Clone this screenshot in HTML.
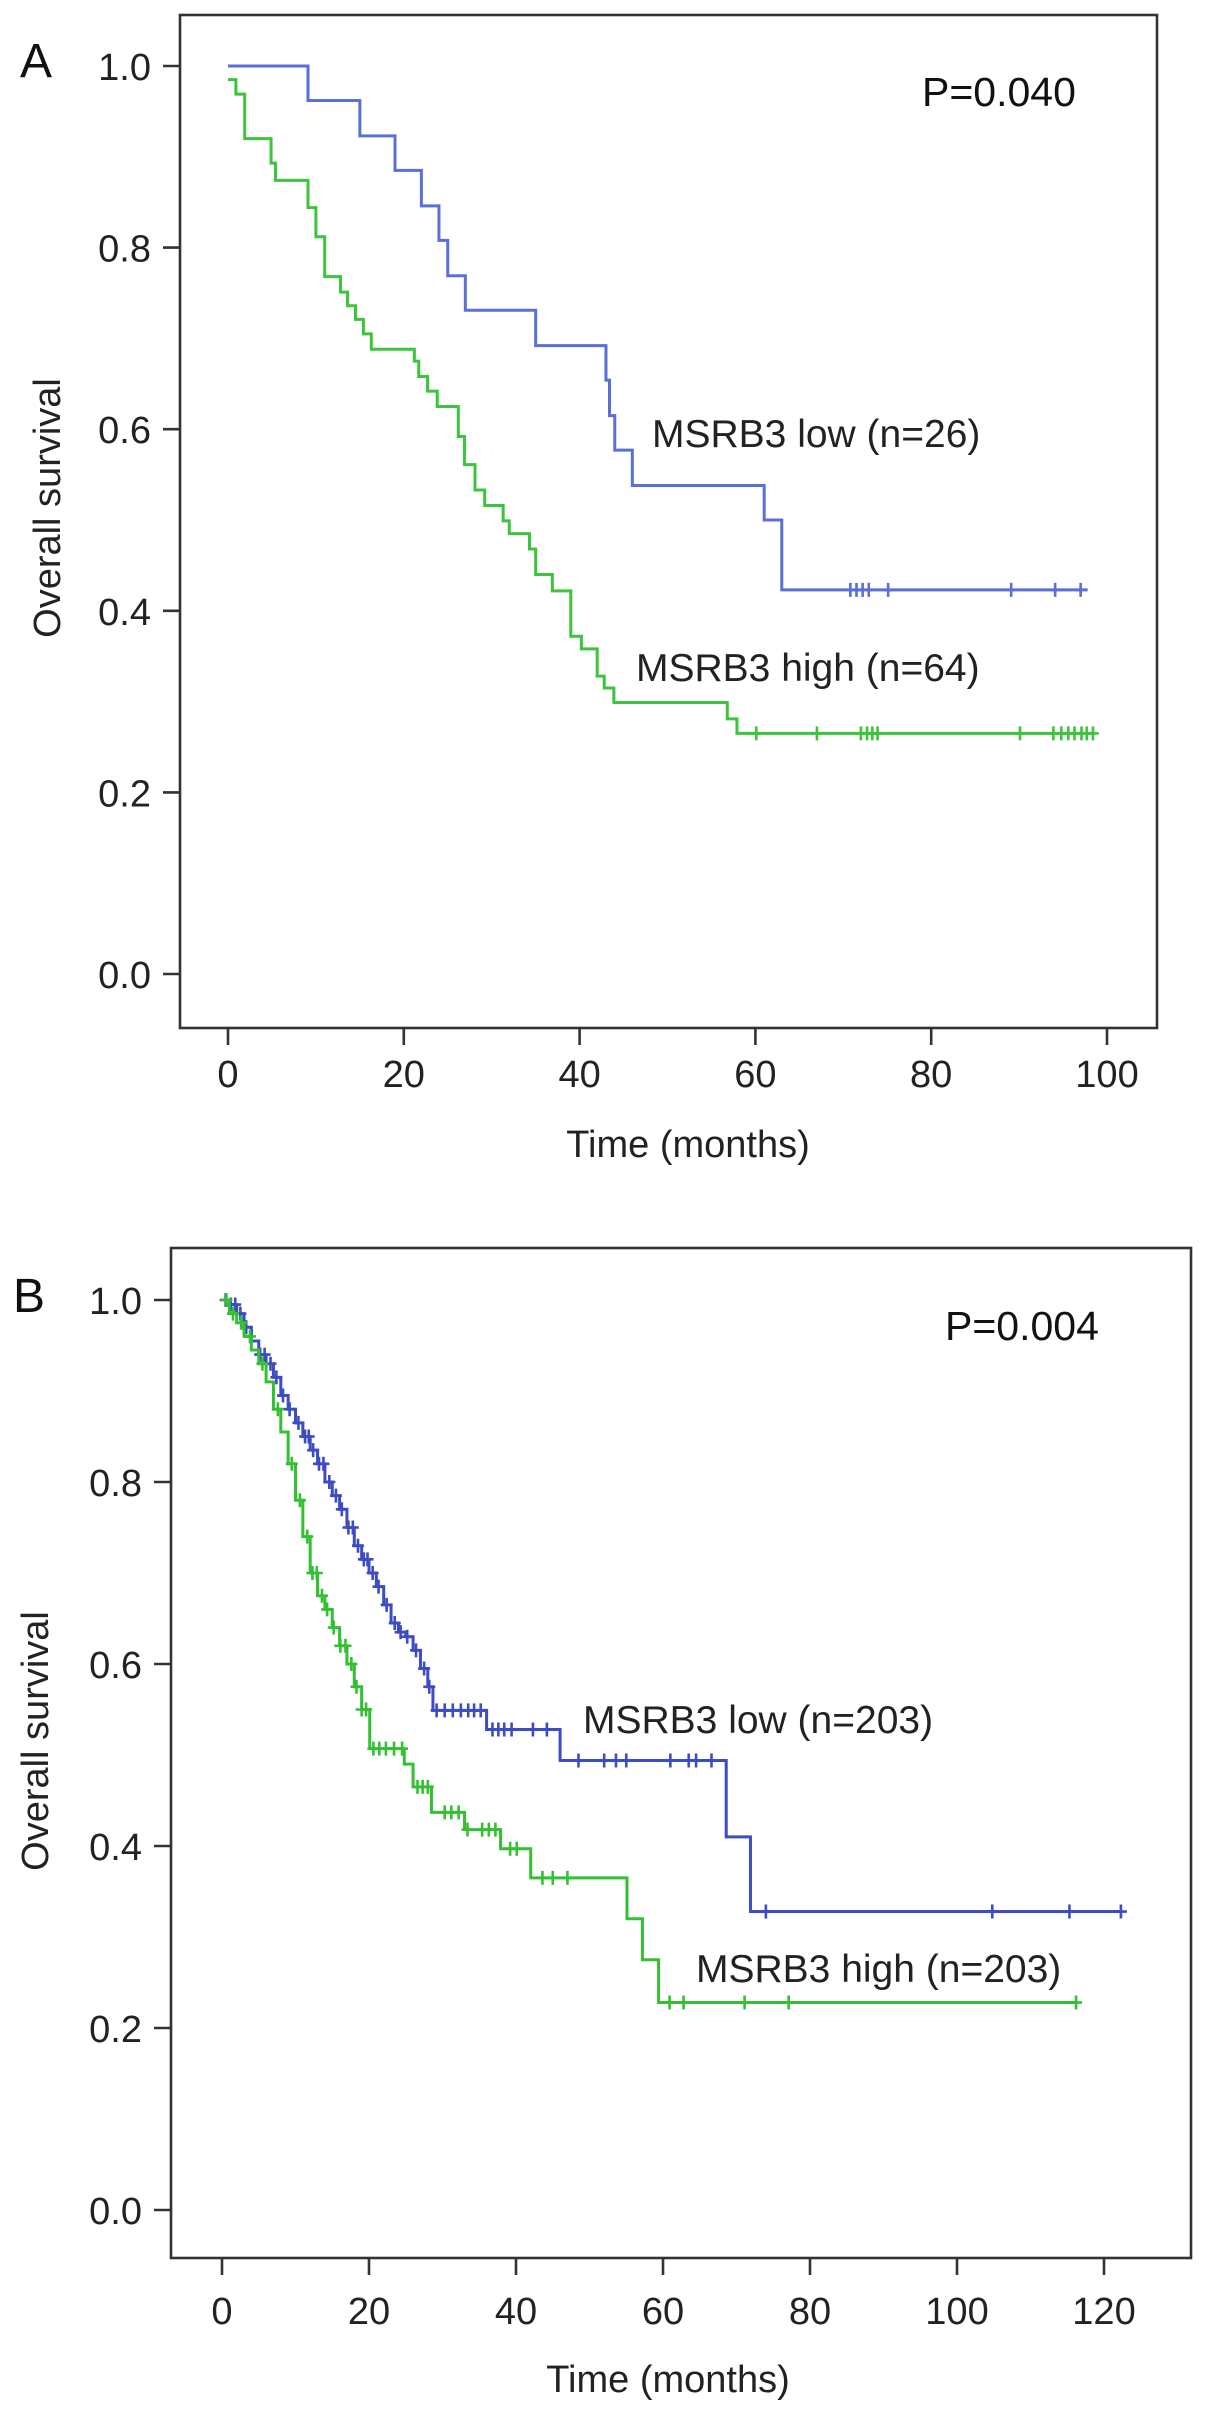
<!DOCTYPE html>
<html><head><meta charset="utf-8">
<style>
html,body{margin:0;padding:0;background:#fff;}
svg{display:block;font-family:"Liberation Sans",Arial,sans-serif;}
</style></head>
<body>
<svg id="chart" width="1205" height="2420" viewBox="0 0 1205 2420" xmlns="http://www.w3.org/2000/svg"></svg>
<script>
// ---------- Panel A data ----------
const aXTicks = [0,20,40,60,80,100];
const aYTicks = [0.0,0.2,0.4,0.6,0.8,1.0];
const aLowTimes = [0,9.1,15,19,22,24,25,27,35,43,43.4,44,46,61,63];
const aLowSurv  = [1,0.962,0.923,0.885,0.846,0.808,0.769,0.731,0.692,0.654,0.615,0.577,0.538,0.500,0.423];
const aLowCensor = [70.8,71.5,72.2,72.9,75.1,89.1,94.1,97.0];
const aLowEnd = 97.8;
const aHighTimes = [0,0.9,1.9,4.9,5.4,9.1,10.0,11.0,12.8,13.6,14.5,15.4,16.3,21.2,21.7,22.7,23.8,26.2,26.9,28.1,29.2,31.3,32.0,34.3,35.0,36.9,39.0,40.2,42.0,42.8,43.9,56.8,57.9];
const aHighSurv  = [0.985,0.969,0.920,0.893,0.874,0.844,0.812,0.768,0.751,0.736,0.721,0.705,0.688,0.675,0.658,0.642,0.625,0.592,0.561,0.533,0.516,0.499,0.485,0.468,0.440,0.422,0.372,0.358,0.328,0.315,0.299,0.281,0.265];
const aHighCensor = [60.1,67.0,72.0,72.7,73.3,73.9,90.1,93.9,94.8,95.6,96.3,97.1,97.7,98.4];
const aHighEnd = 98.6;

// ---------- Panel B data ----------
const bXTicks = [0,20,40,60,80,100,120];
const bYTicks = [0.0,0.2,0.4,0.6,0.8,1.0];
const bLowTimes = [0,1,2,3,4,5,6,7,8,9,10,11,12,13,14,15,16,17,18,19,20,21,22,23,24,25,26,27,28,28.7,36,46,68.6,71.9];
const bLowSurv  = [1,0.995,0.985,0.97,0.955,0.94,0.93,0.915,0.895,0.88,0.865,0.85,0.835,0.82,0.80,0.785,0.77,0.75,0.73,0.715,0.70,0.685,0.665,0.645,0.635,0.63,0.615,0.595,0.575,0.549,0.528,0.494,0.41,0.328];
const bLowCensor = [0.5,1.2,1.8,2.5,3.3,5.2,5.8,6.6,7.4,8.3,9.2,10.4,11.3,11.8,12.4,13.2,13.8,14.6,15.5,16.3,17.2,17.8,18.5,19.3,19.8,20.5,21.3,22.4,23.5,24.3,25.2,26.4,27.5,28.2,29.2,30.3,31.4,32.5,33.5,34.3,35.2,36.8,37.6,38.4,39.4,42.3,44.2,48.5,52,53.6,55,61,63.5,64.5,66.6,74,104.8,115.3,122.3];
const bLowEnd = 122.5;
const bHighTimes = [0,1,2,3,4,5,6,7,8,9,10,11,12,13,14,15,16,17,18,19,20.1,24.8,26,28.5,33,37.9,42,55.1,57.2,59.4];
const bHighSurv  = [1,0.985,0.975,0.96,0.945,0.93,0.91,0.88,0.855,0.82,0.78,0.74,0.70,0.675,0.66,0.64,0.62,0.60,0.575,0.55,0.507,0.49,0.465,0.437,0.418,0.397,0.365,0.32,0.275,0.228];
const bHighCensor = [0.6,1.5,2.6,3.8,5.5,7.6,9.5,10.6,11.6,12.3,12.9,13.6,14.3,15.2,16.1,16.8,17.6,18.3,19.0,19.6,20.6,21.4,22.3,23.4,24.5,26.6,27.3,28.0,30.3,31.2,32.2,33.4,35.4,36.3,37.2,39.2,40.1,43.6,45,47,60.9,62.8,71.1,77.1,116.2];
const bHighEnd = 116.4;

const NS = "http://www.w3.org/2000/svg";
const svg = document.getElementById('chart');
function mk(tag, attrs, parent){
  const e = document.createElementNS(NS, tag);
  for (const k in attrs) e.setAttribute(k, attrs[k]);
  (parent||svg).appendChild(e);
  return e;
}
function survAt(times, surv, t){
  let s = surv[0];
  for (let i=0;i<times.length;i++){ if (times[i] <= t) s = surv[i]; }
  return s;
}

function panel(cfg){
  const g = mk('g', {});
  
  
  const X = t => cfg.x0 + (t - 0) * (cfg.xMaxPx - cfg.x0) / cfg.xMaxVal;
  const Y = v => cfg.y0 + v * (cfg.y1 - cfg.y0);
  const fr = mk('rect', {x:cfg.box[0], y:cfg.box[1], width:cfg.box[2]-cfg.box[0], height:cfg.box[3]-cfg.box[1], fill:'none', stroke:'#333', 'stroke-width':2.6}, g);
  
  
  cfg.yTicks.forEach(v=>{
    const ln = mk('line', {x1:cfg.box[0]-17, x2:cfg.box[0], y1:Y(v), y2:Y(v), stroke:'#333', 'stroke-width':2.6}, g);
    
    
    const tx = mk('text', {x:cfg.box[0]-29, y:Y(v)+14, 'text-anchor':'end', 'font-size':38, fill:'#222'}, g);
    tx.textContent = v.toFixed(1);
    
    
  });
  cfg.xTicks.forEach(v=>{
    const ln = mk('line', {x1:X(v), x2:X(v), y1:cfg.box[3], y2:cfg.box[3]+17, stroke:'#333', 'stroke-width':2.6}, g);
    
    
    const tx = mk('text', {x:X(v), y:cfg.xLabelY, 'text-anchor':'middle', 'font-size':38, fill:'#222'}, g);
    tx.textContent = String(v);
    
    
  });
  const xt = mk('text', {x:cfg.xTitle[0], y:cfg.xTitle[1], 'text-anchor':'middle', 'font-size':38, fill:'#222'}, g);
  xt.textContent = 'Time (months)';
  
  
  const yt = mk('text', {x:0, y:0, 'text-anchor':'middle', 'font-size':38, fill:'#222', transform:`translate(${cfg.yTitle[0]},${cfg.yTitle[1]}) rotate(-90)`}, g);
  yt.textContent = 'Overall survival';
  
  
  const pl = mk('text', {x:cfg.letter[0], y:cfg.letter[1], 'font-size':48, fill:'#111'}, g);
  pl.textContent = cfg.letterText;
  
  
  const pv = mk('text', {x:cfg.pval[0], y:cfg.pval[1], 'font-size':41, fill:'#111'}, g);
  pv.textContent = cfg.pText;
  
  

  cfg.series.forEach(s=>{
    let d = `M${X(s.times[0])},${Y(s.surv[0])}`;
    for (let i=1;i<s.times.length;i++){
      d += ` H${X(s.times[i])} V${Y(s.surv[i])}`;
    }
    d += ` H${X(s.end)}`;
    const p = mk('path', {d:d, fill:'none', stroke:s.color, 'stroke-width':3}, g);
    
    
    s.censor.forEach(t=>{
      const cx = X(t), cy = Y(survAt(s.times, s.surv, t));
      const c = mk('path', {d:`M${cx},${cy-7} V${cy+7} M${cx-6},${cy} H${cx+6}`, stroke:s.color, 'stroke-width':2.6, fill:'none'}, g);
      
      
    });
    const lt = mk('text', {x:s.label[0], y:s.label[1], 'font-size':39, fill:'#222'}, g);
    lt.textContent = s.labelText;
    
    
  });
}

panel({
  name:'panel-a', box:[180,15,1157,1028], x0:228, xMaxPx:1107, xMaxVal:100, y0:974, y1:66,
  xTicks:aXTicks, yTicks:aYTicks, xLabelY:1087, xTitle:[688,1157], yTitle:[60,508],
  letter:[20,77], letterText:'A', pval:[922,106], pText:'P=0.040',
  series:[
    {name:'msrb3-low-a', times:aLowTimes, surv:aLowSurv, censor:aLowCensor, end:aLowEnd, color:'#5a6fd8', label:[652,447], labelText:'MSRB3 low (n=26)'},
    {name:'msrb3-high-a', times:aHighTimes, surv:aHighSurv, censor:aHighCensor, end:aHighEnd, color:'#3cc43c', label:[636,681], labelText:'MSRB3 high (n=64)'}
  ]
});
panel({
  name:'panel-b', box:[171,1248,1191,2258], x0:222, xMaxPx:1104, xMaxVal:120, y0:2210, y1:1300,
  xTicks:bXTicks, yTicks:bYTicks, xLabelY:2324, xTitle:[668,2392], yTitle:[48,1741],
  letter:[13,1312], letterText:'B', pval:[945,1340], pText:'P=0.004',
  series:[
    {name:'msrb3-low-b', times:bLowTimes, surv:bLowSurv, censor:bLowCensor, end:bLowEnd, color:'#3d4cc4', label:[583,1733], labelText:'MSRB3 low (n=203)'},
    {name:'msrb3-high-b', times:bHighTimes, surv:bHighSurv, censor:bHighCensor, end:bHighEnd, color:'#33c033', label:[696,1982], labelText:'MSRB3 high (n=203)'}
  ]
});
</script>
</body></html>
